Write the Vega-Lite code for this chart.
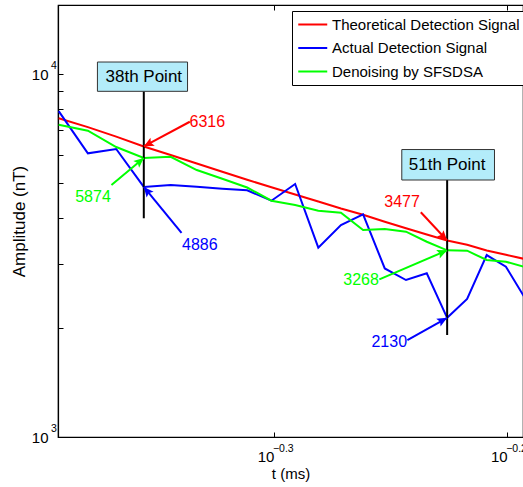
{
  "$schema": "https://vega.github.io/schema/vega-lite/v6.json",
  "width": 465,
  "height": 432,
  "autosize": {"type": "none"},
  "padding": {"left": 58, "top": 5, "right": 0, "bottom": 50},
  "config": {
    "font": "Liberation Sans",
    "view": {"stroke": "black", "strokeWidth": 1.2},
    "axis": {
      "grid": false,
      "domainColor": "black",
      "tickColor": "black",
      "labelColor": "black",
      "titleColor": "black",
      "labelFont": "Liberation Sans",
      "titleFont": "Liberation Sans",
      "titleFontWeight": "normal"
    }
  },
  "datasets": {
    "signals": [
      {"t": 0.40526, "Theoretical Detection Signal": 7550, "Actual Detection Signal": 7900, "Denoising by SFSDSA": 7250},
      {"t": 0.41710, "Theoretical Detection Signal": 7140, "Actual Detection Signal": 6046, "Denoising by SFSDSA": 6980},
      {"t": 0.42893, "Theoretical Detection Signal": 6721, "Actual Detection Signal": 6215, "Denoising by SFSDSA": 6294},
      {"t": 0.44077, "Theoretical Detection Signal": 6316, "Actual Detection Signal": 4886, "Denoising by SFSDSA": 5874},
      {"t": 0.45261, "Theoretical Detection Signal": 5982, "Actual Detection Signal": 4945, "Denoising by SFSDSA": 5917},
      {"t": 0.46444, "Theoretical Detection Signal": 5668, "Actual Detection Signal": 4890, "Denoising by SFSDSA": 5439},
      {"t": 0.47628, "Theoretical Detection Signal": 5378, "Actual Detection Signal": 4831, "Denoising by SFSDSA": 5144},
      {"t": 0.48811, "Theoretical Detection Signal": 5112, "Actual Detection Signal": 4781, "Denoising by SFSDSA": 4868},
      {"t": 0.49995, "Theoretical Detection Signal": 4874, "Actual Detection Signal": 4477, "Denoising by SFSDSA": 4477},
      {"t": 0.51179, "Theoretical Detection Signal": 4657, "Actual Detection Signal": 4977, "Denoising by SFSDSA": 4356},
      {"t": 0.52362, "Theoretical Detection Signal": 4455, "Actual Detection Signal": 3323, "Denoising by SFSDSA": 4202},
      {"t": 0.53546, "Theoretical Detection Signal": 4261, "Actual Detection Signal": 3837, "Denoising by SFSDSA": 4149},
      {"t": 0.54729, "Theoretical Detection Signal": 4097, "Actual Detection Signal": 4107, "Denoising by SFSDSA": 3718},
      {"t": 0.55913, "Theoretical Detection Signal": 3917, "Actual Detection Signal": 2913, "Denoising by SFSDSA": 3741},
      {"t": 0.57097, "Theoretical Detection Signal": 3760, "Actual Detection Signal": 2707, "Denoising by SFSDSA": 3678},
      {"t": 0.58280, "Theoretical Detection Signal": 3614, "Actual Detection Signal": 2825, "Denoising by SFSDSA": 3451},
      {"t": 0.59464, "Theoretical Detection Signal": 3477, "Actual Detection Signal": 2130, "Denoising by SFSDSA": 3268},
      {"t": 0.60648, "Theoretical Detection Signal": 3386, "Actual Detection Signal": 2400, "Denoising by SFSDSA": 3260},
      {"t": 0.61831, "Theoretical Detection Signal": 3266, "Actual Detection Signal": 3172, "Denoising by SFSDSA": 3073},
      {"t": 0.63015, "Theoretical Detection Signal": 3176, "Actual Detection Signal": 2945, "Denoising by SFSDSA": 3040},
      {"t": 0.64198, "Theoretical Detection Signal": 3093, "Actual Detection Signal": 2420, "Denoising by SFSDSA": 2939}
    ],
    "marks": [
      {"label": "38th Point", "t": 0.44077, "bx1": 0.42105, "bx2": 0.46022, "by1": 8961, "by2": 10791, "ly": 9843, "bottom": 4005},
      {"label": "51th Point", "t": 0.59464, "bx1": 0.56860, "bx2": 0.62309, "by1": 5105, "by2": 6194, "ly": 5623, "bottom": 1910}
    ],
    "arrows": [
      {"series": "Theoretical Detection Signal", "value": "6316", "tx": 0.46126, "ty": 7388, "hx": 0.44077, "hy": 6316, "lx": 0.46931, "ly": 7389, "angle": 241.8},
      {"series": "Denoising by SFSDSA", "value": "5874", "tx": 0.42692, "ty": 4945, "hx": 0.44077, "hy": 5874, "lx": 0.41922, "ly": 4592, "angle": 49.4},
      {"series": "Actual Detection Signal", "value": "4886", "tx": 0.45749, "ty": 3652, "hx": 0.44077, "hy": 4886, "lx": 0.46584, "ly": 3380, "angle": 320.7},
      {"series": "Theoretical Detection Signal", "value": "3477", "tx": 0.57938, "ty": 4160, "hx": 0.59464, "hy": 3477, "lx": 0.56877, "ly": 4449, "angle": 136.2},
      {"series": "Denoising by SFSDSA", "value": "3268", "tx": 0.55615, "ty": 2719, "hx": 0.59464, "hy": 3268, "lx": 0.54618, "ly": 2707, "angle": 67.0},
      {"series": "Actual Detection Signal", "value": "2130", "tx": 0.57175, "ty": 1850, "hx": 0.59464, "hy": 2130, "lx": 0.56162, "ly": 1831, "angle": 61.2}
    ],
    "xexp": [
      {"t": 0.501187, "e": "−0.3"},
      {"t": 0.630957, "e": "−0.2"}
    ],
    "yexp": [
      {"amp": 1000, "e": "3"},
      {"amp": 10000, "e": "4"}
    ]
  },
  "resolve": {"axis": {"x": "independent", "y": "independent"}},
  "layer": [
    {
      "data": {"name": "signals"},
      "transform": [
        {"fold": ["Theoretical Detection Signal", "Actual Detection Signal", "Denoising by SFSDSA"], "as": ["series", "amp"]}
      ],
      "mark": {"type": "line", "strokeWidth": 2, "clip": true},
      "encoding": {
        "x": {
          "field": "t",
          "type": "quantitative",
          "scale": {"type": "log", "domain": [0.40498, 0.64087], "nice": false},
          "axis": {
            "orient": "bottom",
            "values": [0.501187, 0.630957],
            "labelExpr": "'10'",
            "labelAlign": "right",
            "labelDx": -2,
            "labelBaseline": "top",
            "labelPadding": 17,
            "labelFontSize": 15,
            "labelFlush": false,
            "labelOverlap": false,
            "tickSize": -5,
            "domainWidth": 1.2,
            "title": "t (ms)",
            "titleFontSize": 15,
            "titlePadding": 2
          }
        },
        "y": {
          "field": "amp",
          "type": "quantitative",
          "scale": {"type": "log", "domain": [1000, 15494], "nice": false},
          "axis": {
            "orient": "left",
            "values": [1000, 2000, 3000, 4000, 5000, 6000, 7000, 8000, 9000, 10000],
            "labelExpr": "datum.value == 1000 || datum.value == 10000 ? '10' : ''",
            "labelPadding": 15,
            "labelFontSize": 15,
            "labelBaseline": "middle",
            "labelFlush": false,
            "labelOverlap": false,
            "tickSize": -5,
            "domainWidth": 1.2,
            "title": "Amplitude (nT)",
            "titleFontSize": 17,
            "titlePadding": 3
          }
        },
        "color": {
          "field": "series",
          "type": "nominal",
          "scale": {
            "domain": ["Theoretical Detection Signal", "Actual Detection Signal", "Denoising by SFSDSA"],
            "range": ["#ff0000", "#0000ff", "#00ff00"]
          },
          "legend": {
            "orient": "none",
            "legendX": 234,
            "legendY": 6,
            "title": null,
            "symbolType": "M-1,0H3",
            "symbolSize": 210,
            "symbolStrokeWidth": 2,
            "labelFontSize": 15,
            "labelFont": "Liberation Sans",
            "labelColor": "black",
            "labelLimit": 400,
            "labelOffset": 18,
            "strokeColor": "black",
            "fillColor": "white",
            "padding": 5,
            "rowPadding": 6.5
          }
        }
      }
    },
    {
      "data": {"name": "marks"},
      "mark": {"type": "rule", "color": "black", "strokeWidth": 2},
      "encoding": {
        "x": {"field": "t", "type": "quantitative", "axis": null},
        "y": {"field": "by1", "type": "quantitative", "axis": null},
        "y2": {"field": "bottom"}
      }
    },
    {
      "data": {"name": "marks"},
      "mark": {"type": "rect", "fill": "#b3ecfa", "stroke": "#333333", "strokeWidth": 1},
      "encoding": {
        "x": {"field": "bx1", "type": "quantitative", "axis": null},
        "x2": {"field": "bx2"},
        "y": {"field": "by1", "type": "quantitative", "axis": null},
        "y2": {"field": "by2"}
      }
    },
    {
      "data": {"name": "marks"},
      "mark": {"type": "text", "fontSize": 17, "color": "black", "align": "center", "baseline": "middle"},
      "encoding": {
        "x": {"field": "t", "type": "quantitative", "axis": null},
        "y": {"field": "ly", "type": "quantitative", "axis": null},
        "text": {"field": "label"}
      }
    },
    {
      "data": {"name": "arrows"},
      "mark": {"type": "rule", "strokeWidth": 2},
      "encoding": {
        "x": {"field": "tx", "type": "quantitative", "axis": null},
        "y": {"field": "ty", "type": "quantitative", "axis": null},
        "x2": {"field": "hx"},
        "y2": {"field": "hy"},
        "color": {"field": "series", "type": "nominal", "legend": null}
      }
    },
    {
      "data": {"name": "arrows"},
      "mark": {"type": "point", "filled": true, "opacity": 1, "shape": "M0,0L-0.45,1L0,0.8L0.45,1Z", "size": 400},
      "encoding": {
        "x": {"field": "hx", "type": "quantitative", "axis": null},
        "y": {"field": "hy", "type": "quantitative", "axis": null},
        "angle": {"field": "angle", "type": "quantitative", "scale": null},
        "color": {"field": "series", "type": "nominal", "legend": null}
      }
    },
    {
      "data": {"name": "arrows"},
      "mark": {"type": "text", "fontSize": 16, "align": "center", "baseline": "middle"},
      "encoding": {
        "x": {"field": "lx", "type": "quantitative", "axis": null},
        "y": {"field": "ly", "type": "quantitative", "axis": null},
        "text": {"field": "value"},
        "color": {"field": "series", "type": "nominal", "legend": null}
      }
    },
    {
      "data": {"name": "xexp"},
      "mark": {"type": "text", "fontSize": 10.5, "align": "left", "baseline": "middle", "dx": -1, "dy": 12, "color": "black"},
      "encoding": {
        "x": {
          "field": "t",
          "type": "quantitative",
          "axis": {
            "orient": "top",
            "values": [0.501187, 0.630957],
            "labels": false,
            "domain": false,
            "tickSize": -5,
            "title": null
          }
        },
        "y": {"datum": 1000, "type": "quantitative", "axis": null},
        "text": {"field": "e"}
      }
    },
    {
      "data": {"name": "yexp"},
      "mark": {"type": "text", "fontSize": 10.5, "align": "left", "baseline": "middle", "dx": -7, "dy": -8, "color": "black"},
      "encoding": {
        "x": {"datum": 0.40498, "type": "quantitative", "axis": null},
        "y": {"field": "amp", "type": "quantitative", "axis": null},
        "text": {"field": "e"}
      }
    }
  ]
}
